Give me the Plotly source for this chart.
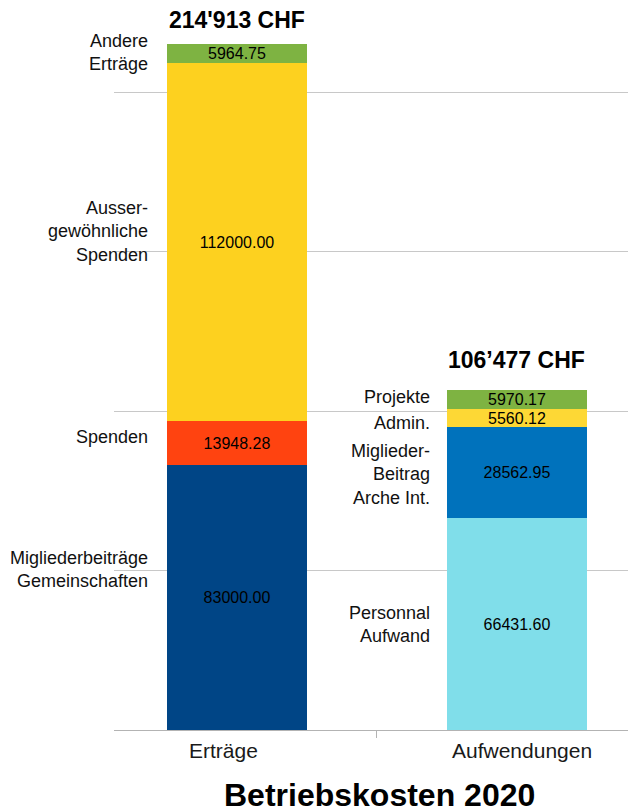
import plotly.graph_objects as go

categories = ["Erträge", "Aufwendungen"]

ertraege_labels = ["Migliederbeiträge<br>Gemeinschaften", "Spenden",
                   "Ausser-<br>gewöhnliche<br>Spenden", "Andere<br>Erträge"]
ertraege_values = [83000.00, 13948.28, 112000.00, 5964.75]
ertraege_colors = ["#004586", "#FF4310", "#FDD11F", "#7EB342"]

aufwand_labels = ["Personnal<br>Aufwand", "Miglieder-<br>Beitrag<br>Arche Int.",
                  "Admin.", "Projekte"]
aufwand_values = [66431.60, 28562.95, 5560.12, 5970.17]
aufwand_colors = ["#80DEEA", "#0072BC", "#FDD835", "#7EB342"]

totals_text = ["214'913 CHF", "106\u2019477 CHF"]
title_text = "Betriebskosten 2020"

FONT = "Liberation Sans, Arial, sans-serif"

fig = go.Figure()
annotations = []

groups = [
    (categories[0], ertraege_labels, ertraege_values, ertraege_colors,
     [28, 6, 11, 1], -87, 24, -13),
    (categories[1], aufwand_labels, aufwand_values, aufwand_colors,
     [0, -2, -5, 3], -85, 30, 5),
]

for idx, (cat, labels, values, colors, lshifts, xs, tshift, cshift) in enumerate(groups):
    base = 0.0
    for lab, val, col, ls in zip(labels, values, colors, lshifts):
        fig.add_trace(go.Bar(
            x=[cat], y=[val], marker=dict(color=col, line=dict(width=0)),
            width=0.5, text=[f"{val:.2f}"], textposition="inside",
            insidetextanchor="middle", textangle=0,
            textfont=dict(family=FONT, size=16, color="#000000"),
            showlegend=False, hoverinfo="skip",
        ))
        annotations.append(dict(
            x=cat, y=base + val / 2, xref="x", yref="y", text=lab,
            showarrow=False, xanchor="right", yanchor="middle", align="right",
            xshift=xs, yshift=ls,
            font=dict(family=FONT, size=18, color="#111111"),
        ))
        base += val
    annotations.append(dict(
        x=cat, y=base, xref="x", yref="y",
        text=f"<b>{totals_text[idx]}</b>",
        showarrow=False, xanchor="center", yanchor="middle", yshift=tshift,
        font=dict(family=FONT, size=23, color="#000000"),
    ))
    # category label below the axis
    annotations.append(dict(
        x=cat, y=0, xref="x", yref="y", text=cat,
        showarrow=False, xanchor="center", yanchor="middle",
        xshift=cshift, yshift=-20,
        font=dict(family=FONT, size=21, color="#1a1a1a"),
    ))

annotations.append(dict(
    x=0.508, y=0, xref="paper", yref="paper", text=f"<b>{title_text}</b>",
    showarrow=False, xanchor="center", yanchor="middle", yshift=-65,
    font=dict(family=FONT, size=32, color="#000000"),
))

# the page body adds an 8px offset, so the figure is 8px smaller
fig.update_layout(
    width=628, height=801,
    margin=dict(l=106, r=0, t=22, b=79),
    paper_bgcolor="white", plot_bgcolor="white",
    barmode="stack", bargap=0,
    uniformtext=dict(minsize=16, mode="show"),
    annotations=annotations,
    font=dict(family=FONT),
)
fig.update_xaxes(
    type="category", range=[-0.439, 1.425],
    showline=True, linecolor="#b3b3b3", linewidth=1,
    ticks="outside", tickson="boundaries", ticklen=7, tickcolor="#b3b3b3",
    showticklabels=False,
    showgrid=False, zeroline=False,
)
fig.update_yaxes(
    range=[0, 219436], dtick=50000, tick0=0,
    showticklabels=False, showgrid=True, gridcolor="#c8c8c8", gridwidth=1,
    zeroline=False, showline=False,
)

fig.write_html("out.html")
